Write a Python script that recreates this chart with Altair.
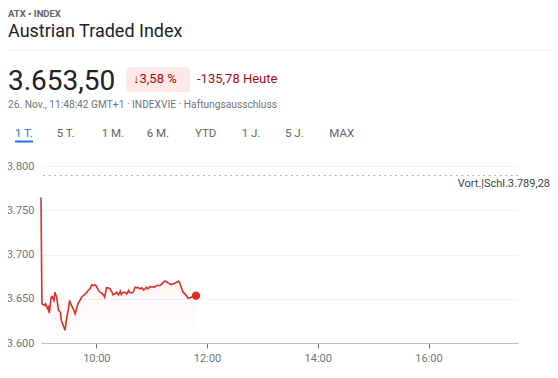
import altair as alt
import pandas as pd

# ---------------- data ----------------
TIMES = ["09:00", "09:01", "09:04", "09:05", "09:07", "09:08", "09:09", "09:11", "09:12", "09:14",
         "09:15", "09:17", "09:19", "09:21", "09:22", "09:24", "09:26", "09:28", "09:30", "09:31",
         "09:33", "09:35", "09:37", "09:39", "09:40", "09:42", "09:44", "09:46", "09:48", "09:49",
         "09:51", "09:53", "09:55", "09:57", "09:59", "10:00", "10:02", "10:04", "10:06", "10:08",
         "10:09", "10:11", "10:13", "10:15", "10:17", "10:18", "10:20", "10:22", "10:24", "10:26",
         "10:27", "10:29", "10:31", "10:33", "10:35", "10:36", "10:38", "10:40", "10:42", "10:44",
         "10:45", "10:47", "10:49", "10:51", "10:53", "10:54", "10:56", "10:58", "11:00", "11:02",
         "11:03", "11:05", "11:07", "11:09", "11:11", "11:12", "11:14", "11:16", "11:18", "11:20",
         "11:21", "11:23", "11:25", "11:27", "11:29", "11:30", "11:32", "11:34", "11:36", "11:38",
         "11:39", "11:41", "11:43", "11:45", "11:48"]
VALUES = [3764.4, 3644.3, 3642.4, 3644.3, 3638.7, 3640.5, 3633.8, 3651.8, 3652.5, 3648.0,
          3657.4, 3651.8, 3636.8, 3634.9, 3625.5, 3619.9, 3614.3, 3629.3, 3640.5, 3648.0,
          3642.4, 3638.7, 3633.0, 3640.5, 3644.3, 3648.0, 3651.8, 3653.7, 3655.5, 3656.3,
          3659.3, 3661.2, 3665.7, 3664.9, 3665.7, 3664.2, 3660.0, 3657.4, 3656.3, 3653.7,
          3651.8, 3662.3, 3662.3, 3661.2, 3657.4, 3654.4, 3655.5, 3657.4, 3654.4, 3658.5,
          3654.8, 3657.4, 3657.4, 3655.5, 3659.3, 3657.4, 3656.3, 3657.4, 3663.0, 3662.3,
          3663.0, 3661.2, 3662.3, 3660.0, 3661.2, 3663.0, 3661.2, 3663.8, 3663.0, 3663.8,
          3663.0, 3664.9, 3664.9, 3664.9, 3666.8, 3667.9, 3669.8, 3669.4, 3667.6, 3666.8,
          3665.7, 3666.8, 3667.6, 3668.7, 3669.8, 3668.7, 3663.0, 3657.4, 3655.5, 3652.9,
          3651.0, 3651.0, 3651.8, 3652.5, 3653.5]
DAY = "2024-11-26"
PREV_CLOSE = 3789.28
Y_TICKS = [3600, 3650, 3700, 3750, 3800]
X_TICK_HOURS = [10, 12, 14, 16]

TICKER = "ATX • INDEX"
TITLE = "Austrian Traded Index"
PRICE = "3.653,50"
CHANGE_PCT = "↓3,58 %"
CHANGE_ABS = "-135,78 Heute"
SUBLINE = "26. Nov., 11:48:42 GMT+1 · INDEXVIE · Haftungsausschluss"
TABS = ["1 T.", "5 T.", "1 M.", "6 M.", "YTD", "1 J.", "5 J.", "MAX"]
PREV_LABEL = "Vort.|Schl.3.789,28"

# ---------------- layout / style ----------------
TAB_X = [-26, 15.7, 60.7, 105.7, 154, 200.7, 244, 288.3]
FONT = "Roboto"
RED = "#d93025"
DARK_RED = "#a50e0e"
W, H = 477, 177

df = pd.DataFrame({"t": [f"{DAY}T{t}:00" for t in TIMES], "v": VALUES})
last = df.tail(1)

x_scale = alt.Scale(domain=[alt.DateTime(year=2024, month=11, date=26, hours=9, minutes=0),
                            alt.DateTime(year=2024, month=11, date=26, hours=17, minutes=37)])
y_scale = alt.Scale(domain=[3600, 3800], nice=False, zero=False)

x_enc = alt.X("t:T", scale=x_scale, title=None,
              axis=alt.Axis(values=[alt.DateTime(year=2024, month=11, date=26, hours=h, minutes=0)
                                    for h in X_TICK_HOURS],
                            format="%H:%M", grid=False, domainColor="#bdc1c6",
                            tickColor="#70757a", tickSize=5, labelColor="#70757a",
                            labelFontSize=11, labelFont=FONT, labelPadding=4))
y_enc = alt.Y("v:Q", scale=y_scale, title=None,
              axis=alt.Axis(values=Y_TICKS, domain=False, ticks=False, gridColor="#f1f3f4",
                            labelColor="#70757a", labelFontSize=11, labelFont=FONT,
                            labelPadding=7,
                            labelExpr="replace(format(datum.value, ','), ',', '.')"))

base = alt.Chart(df)

area = base.mark_area(
    color=alt.Gradient(gradient="linear",
                       stops=[alt.GradientStop(color="rgba(217,48,37,0.12)", offset=0),
                              alt.GradientStop(color="rgba(217,48,37,0.0)", offset=1)],
                       x1=1, x2=1, y1=0, y2=1)
).encode(x=x_enc, y=y_enc, y2=alt.datum(3600))

line = base.mark_line(color=RED, strokeWidth=1.6).encode(x="t:T", y="v:Q")

dot = alt.Chart(last).mark_circle(color=RED, size=70, opacity=1).encode(x="t:T", y="v:Q")

prev = alt.Chart(pd.DataFrame({"p": [PREV_CLOSE]})).mark_rule(
    color="#9aa0a6", strokeDash=[1.5, 4], strokeWidth=1
).encode(y="p:Q")

one = pd.DataFrame({"a": [0]})


def txt(s, x, y, size, color, weight="normal", align="left"):
    return alt.Chart(one).mark_text(
        text=s, font=FONT, fontSize=size, color=color, fontWeight=weight,
        align=align, baseline="alphabetic"
    ).encode(x=alt.value(x), y=alt.value(y))


layers = [area, line, dot, prev]

layers.append(txt(TICKER, -33, -149.5, 9.5, "#5f6368", weight="bold"))
layers.append(txt(TITLE, -33, -129.3, 18, "#202124"))
layers.append(alt.Chart(one).mark_rule(color="#ebebeb", strokeWidth=1).encode(
    x=alt.value(-33), x2=alt.value(509), y=alt.value(-116)))
layers.append(txt(PRICE, -33, -76, 28, "#202124"))
layers.append(alt.Chart(one).mark_rect(color="#fce8e6", cornerRadius=4).encode(
    x=alt.value(85), x2=alt.value(149), y=alt.value(-99), y2=alt.value(-74)))
layers.append(txt(CHANGE_PCT, 92, -82.7, 13, DARK_RED))
layers.append(txt(CHANGE_ABS, 156, -82.7, 13, DARK_RED))
layers.append(txt(SUBLINE, -33, -58, 10.2, "#70757a"))
for i, (tab, tx) in enumerate(zip(TABS, TAB_X)):
    layers.append(txt(tab, tx, -28.7, 11.5, "#1a73e8" if i == 0 else "#5f6368"))
layers.append(alt.Chart(one).mark_rule(color="#1a73e8", strokeWidth=2).encode(
    x=alt.value(-26), x2=alt.value(-8), y=alt.value(-24.5)))
layers.append(txt(PREV_LABEL, 509, 20.7, 11, "#3c4043", align="right"))

chart = alt.layer(*layers).properties(
    width=W, height=H,
    autosize=alt.AutoSizeParams(type="none"),
    padding={"left": 33, "right": 32, "top": 158, "bottom": 27},
    background="white",
).configure_view(stroke=None)

chart.save("out.html", embed_options={"renderer": "svg", "actions": False})
